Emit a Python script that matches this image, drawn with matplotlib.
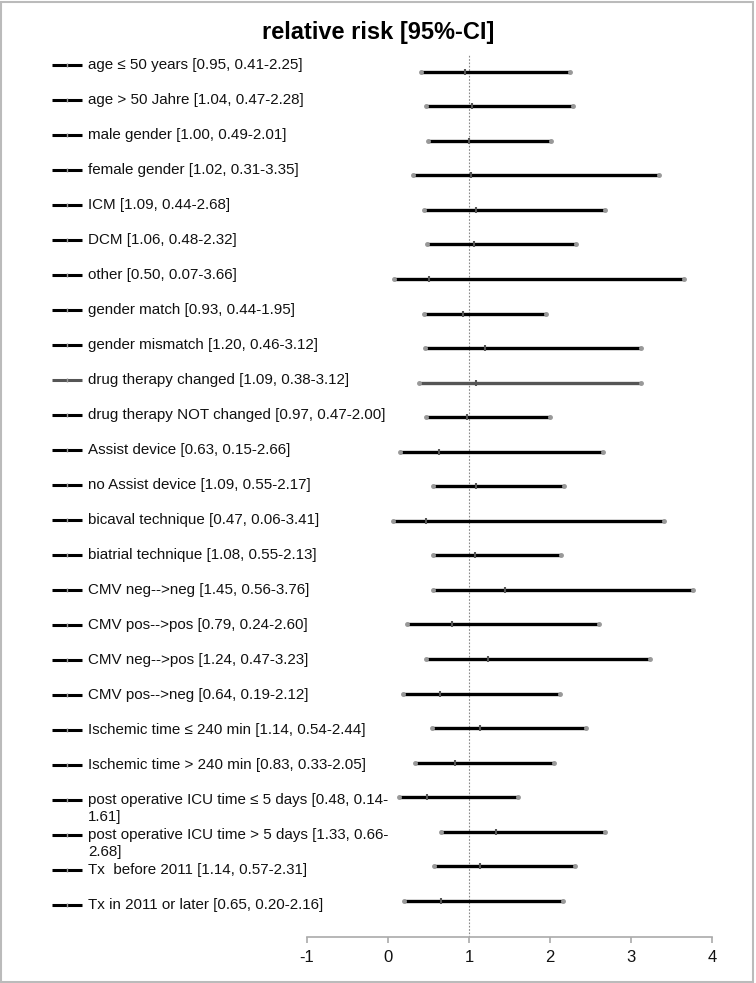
import numpy as np
import matplotlib
matplotlib.use("Agg")
import matplotlib.pyplot as plt
import matplotlib.transforms as mtransforms
from matplotlib.patches import Rectangle

plt.rcParams['font.family'] = ['Liberation Sans', 'DejaVu Sans']

# Daten: Untergruppen, relatives Risiko und 95%-KI
labels = [
    "age \u2264 50 years [0.95, 0.41-2.25]",
    "age > 50 Jahre [1.04, 0.47-2.28]",
    "male gender [1.00, 0.49-2.01]",
    "female gender [1.02, 0.31-3.35]",
    "ICM [1.09, 0.44-2.68]",
    "DCM [1.06, 0.48-2.32]",
    "other [0.50, 0.07-3.66]",
    "gender match [0.93, 0.44-1.95]",
    "gender mismatch [1.20, 0.46-3.12]",
    "drug therapy changed [1.09, 0.38-3.12]",
    "drug therapy NOT changed [0.97, 0.47-2.00]",
    "Assist device [0.63, 0.15-2.66]",
    "no Assist device [1.09, 0.55-2.17]",
    "bicaval technique [0.47, 0.06-3.41]",
    "biatrial technique [1.08, 0.55-2.13]",
    "CMV neg-->neg [1.45, 0.56-3.76]",
    "CMV pos-->pos [0.79, 0.24-2.60]",
    "CMV neg-->pos [1.24, 0.47-3.23]",
    "CMV pos-->neg [0.64, 0.19-2.12]",
    "Ischemic time \u2264 240 min [1.14, 0.54-2.44]",
    "Ischemic time > 240 min [0.83, 0.33-2.05]",
    "post operative ICU time \u2264 5 days [0.48, 0.14-\n1.61]",
    "post operative ICU time > 5 days [1.33, 0.66-\n2.68]",
    "Tx  before 2011 [1.14, 0.57-2.31]",
    "Tx in 2011 or later [0.65, 0.20-2.16]",
]
rr = [0.95, 1.04, 1.00, 1.02, 1.09, 1.06, 0.50, 0.93, 1.20, 1.09, 0.97, 0.63, 1.09,
      0.47, 1.08, 1.45, 0.79, 1.24, 0.64, 1.14, 0.83, 0.48, 1.33, 1.14, 0.65]
ci_low = [0.41, 0.47, 0.49, 0.31, 0.44, 0.48, 0.07, 0.44, 0.46, 0.38, 0.47, 0.15, 0.55,
          0.06, 0.55, 0.56, 0.24, 0.47, 0.19, 0.54, 0.33, 0.14, 0.66, 0.57, 0.20]
ci_high = [2.25, 2.28, 2.01, 3.35, 2.68, 2.32, 3.66, 1.95, 3.12, 3.12, 2.00, 2.66, 2.17,
           3.41, 2.13, 3.76, 2.60, 3.23, 2.12, 2.44, 2.05, 1.61, 2.68, 2.31, 2.16]
colors = ['black'] * len(labels)
colors[9] = '#555555'
xticks = [-1, 0, 1, 2, 3, 4]

W, H = 756, 983
fig = plt.figure(figsize=(W / 100, H / 100), dpi=100)

# Zeilenabstand der Balken (px) und der Legende (px)
row_px = 34.55
leg_px = 35.0
first_bar = 71.7
first_leg = 65.0
ax_top, ax_bottom = 55, 937
ax = fig.add_axes([307 / W, 1 - ax_bottom / H, 405 / W, (ax_bottom - ax_top) / H])

n = len(labels)
ax.set_xlim(-1, 4)
ax.set_ylim((ax_bottom - first_bar) / row_px, (ax_top - first_bar) / row_px)

ax.axvline(1, color='#888888', lw=0.8, ls=(0, (1.5, 1.5)), zorder=1)

for i in range(n):
    ax.plot([ci_low[i], ci_high[i]], [i, i], color=colors[i], lw=2.4,
            solid_capstyle='butt', zorder=2)
    ax.plot([ci_low[i], ci_high[i]], [i, i], ls='none', marker='o', ms=2.5,
            color='#999999', zorder=3)
    ax.plot([rr[i]], [i], marker='|', ms=5, mew=1.5, color='#555555', zorder=3)

# Legende links
trans = mtransforms.blended_transform_factory(fig.transFigure, ax.transData)
for i in range(n):
    yl = (first_leg + leg_px * i - first_bar) / row_px
    ax.plot([52 / W, 82 / W], [yl, yl], color=colors[i], lw=2.2, transform=trans,
            clip_on=False, solid_capstyle='butt')
    ax.plot([67 / W], [yl], marker='|', ms=3, mew=1, color='#999999',
            transform=trans, clip_on=False)
    parts = labels[i].split('\n')
    for k, part in enumerate(parts):
        ax.text(88 / W, yl + 17.5 / row_px * k, part, transform=trans, fontsize=10.9,
                va='center', ha='left', color='#111111')

fig.text(0.5, 1 - 32 / H, "relative risk [95%-CI]", ha='center', va='center',
         fontsize=17, fontweight='bold')

for s in ['top', 'left', 'right']:
    ax.spines[s].set_visible(False)
ax.spines['bottom'].set_color('#aaaaaa')
ax.spines['bottom'].set_linewidth(1.2)
ax.set_yticks([])
ax.set_xticks(xticks)
ax.set_xticklabels([str(t) for t in xticks])
ax.tick_params(axis='x', colors='#aaaaaa', length=4, width=1.2, labelsize=12,
               labelcolor='#111111', pad=5)
ax.patch.set_alpha(0)

fig.patches.append(Rectangle((1 / W, 1 / H), 1 - 4 / W, 1 - 3 / H,
                             transform=fig.transFigure, fill=False,
                             edgecolor='#bbbbbb', lw=1.5))

fig.savefig("out.png", dpi=100)
